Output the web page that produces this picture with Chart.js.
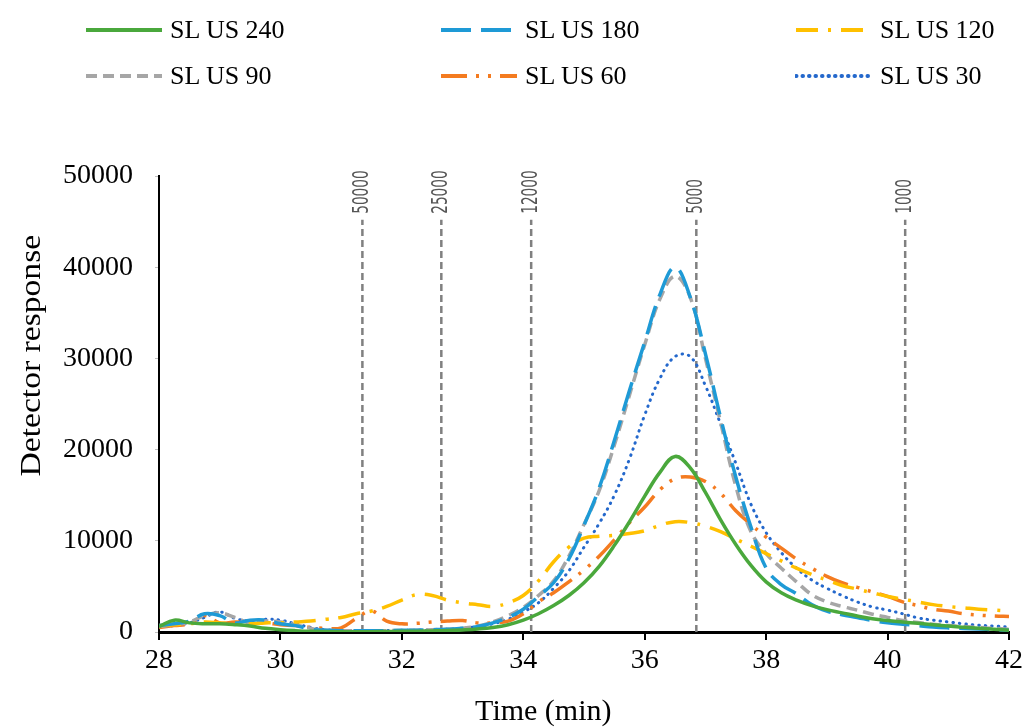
<!DOCTYPE html>
<html>
<head>
<meta charset="utf-8">
<title>Detector response</title>
<script src="https://cdn.jsdelivr.net/npm/chart.js@4.4.0/dist/chart.umd.min.js"></script>
<style>
  html, body { margin: 0; padding: 0; background: #fff; }
  #wrap { position: relative; width: 1027px; height: 728px; }
  #legend { position: absolute; left: 0; top: 0; width: 1027px; height: 100px;
            font-family: 'Liberation Serif', serif; font-size: 26px; color: #000; }
  .item { position: absolute; display: flex; align-items: center; height: 30px; white-space: nowrap; }
  .item svg { margin-right: 7px; }
</style>
</head>
<body>
<div id="wrap">
  <canvas id="chart" width="1027" height="728"></canvas>
  <div id="legend"></div>
</div>
<script>
// retention time (min)
const times = [28, 28.25, 28.5, 28.75, 29, 29.25, 29.5, 29.75, 30, 30.25, 30.5, 30.75,
  31, 31.25, 31.5, 31.75, 32, 32.25, 32.5, 32.75, 33, 33.25, 33.5, 33.75,
  34, 34.25, 34.5, 34.75, 35, 35.25, 35.5, 35.75, 36, 36.25, 36.5, 36.75,
  37, 37.25, 37.5, 37.75, 38, 38.25, 38.5, 38.75, 39, 39.25, 39.5, 39.75,
  40, 40.25, 40.5, 40.75, 41, 41.25, 41.5, 41.75, 42];

const sl240 = [600, 1300, 1000, 900, 900, 800, 650, 400, 250, 150, 80, 50,
  30, 30, 40, 50, 70, 90, 120, 160, 230, 330, 500, 800,
  1300, 2000, 2900, 4000, 5400, 7200, 9500, 12100, 14900, 17500, 19250, 18000,
  15300, 12300, 9600, 7300, 5500, 4300, 3500, 2900, 2450, 2100, 1750, 1450,
  1250, 1100, 950, 800, 650, 530, 420, 300, 200];

const sl180 = [700, 900, 1200, 2000, 1800, 1000, 1300, 1300, 900, 700, 300, 200,
  150, 150, 150, 150, 180, 200, 250, 300, 400, 600, 1000, 1600,
  2500, 3900, 5400, 8000, 11700, 15800, 21000, 26500, 31800, 37000, 40000, 36700,
  30500, 23500, 17000, 11500, 7000, 5200, 4200, 3000, 2300, 1900, 1600, 1250,
  1000, 850, 700, 550, 450, 380, 320, 260, 200];

const sl120 = [700, 800, 900, 1100, 1000, 900, 900, 1000, 1000, 1100, 1200, 1400,
  1600, 2000, 2300, 2800, 3500, 4100, 4000, 3500, 3200, 3000, 2800, 3200,
  4000, 5600, 7700, 9300, 10300, 10500, 10600, 10800, 11100, 11700, 12100, 12000,
  11600, 11000, 10200, 9400, 8600, 7800, 7000, 6300, 5700, 5100, 4700, 4300,
  3900, 3600, 3300, 3000, 2800, 2650, 2500, 2400, 2300];

const sl90 = [600, 800, 1100, 1800, 2100, 1600, 1000, 1200, 1100, 800, 400, 200,
  150, 150, 150, 150, 170, 200, 250, 300, 420, 650, 1100, 1800,
  2700, 4000, 5600, 8300, 11800, 15500, 20500, 26000, 31500, 36500, 39000, 36700,
  30000, 23000, 16000, 11000, 8600, 7000, 5500, 4100, 3300, 2800, 2400, 1950,
  1600, 1250, 1050, 850, 700, 600, 500, 400, 300];

const sl60 = [500, 700, 900, 1800, 1000, 1100, 1050, 1000, 800, 700, 500, 400,
  450, 1500, 2300, 1200, 900, 950, 1100, 1200, 1250, 1000, 1000, 1200,
  2000, 3300, 4300, 5500, 6800, 8300, 10100, 12000, 13700, 15600, 16800, 17000,
  16500, 15200, 13300, 11800, 10400, 9200, 8000, 7000, 6100, 5400, 4900, 4400,
  3900, 3300, 2900, 2500, 2300, 2000, 1850, 1750, 1700];

const sl30 = [600, 700, 1000, 1600, 2200, 1500, 1200, 1400, 1300, 900, 500, 250,
  150, 150, 150, 150, 180, 200, 250, 300, 400, 600, 900, 1400,
  2200, 3200, 4800, 6700, 9300, 11900, 15000, 19000, 23800, 27800, 30200, 30200,
  27000, 22800, 18500, 14000, 10900, 8700, 7000, 5700, 4800, 4000, 3300, 2750,
  2400, 2000, 1550, 1300, 1100, 900, 750, 650, 550];

// molecular weight markers (Da) and their elution times
const markerLabels = ['50000', '25000', '12000', '5000', '1000'];
const markerTimes = [31.35, 32.65, 34.13, 36.85, 40.29];
const markerTop = 45200;

const seriesNames = ['SL US 240', 'SL US 180', 'SL US 120', 'SL US 90', 'SL US 60', 'SL US 30'];
const seriesValues = [sl240, sl180, sl120, sl90, sl60, sl30];
const seriesStyle = [
  { color: '#4aa83c', dash: [], width: 3.5, cap: 'butt' },
  { color: '#1e9ad6', dash: [30, 10], width: 3.5, cap: 'butt' },
  { color: '#ffc000', dash: [22, 10, 3, 10], width: 3.5, cap: 'butt' },
  { color: '#a6a6a6', dash: [11, 6], width: 3.5, cap: 'butt' },
  { color: '#f47b20', dash: [26, 9, 3, 9, 3, 9], width: 3.5, cap: 'butt' },
  { color: '#2468cc', dash: [0.5, 6], width: 3, cap: 'round' }
];

const serif = "'Liberation Serif', 'Times New Roman', serif";

const datasets = seriesNames.map((name, i) => ({
  label: name,
  data: times.map((t, j) => ({ x: t, y: seriesValues[i][j] })),
  borderColor: seriesStyle[i].color,
  borderDash: seriesStyle[i].dash,
  borderWidth: seriesStyle[i].width,
  borderCapStyle: seriesStyle[i].cap,
  fill: false,
  pointRadius: 0,
  tension: 0.4
}));

markerTimes.forEach((t, i) => {
  datasets.push({
    label: markerLabels[i],
    marker: true,
    data: [{ x: t, y: 0 }, { x: t, y: markerTop }],
    borderColor: '#808080',
    borderDash: [7, 4],
    borderWidth: 2.5,
    pointRadius: 0,
    tension: 0
  });
});

// marker labels above the dashed lines, axis titles
const extras = {
  id: 'extras',
  afterDatasetsDraw(chart) {
    const { ctx, scales: { x, y } } = chart;
    ctx.save();
    ctx.fillStyle = '#555';
    ctx.font = "22px 'DejaVu Sans', sans-serif";
    ctx.textAlign = 'left';
    ctx.textBaseline = 'middle';
    markerTimes.forEach((t, i) => {
      ctx.save();
      ctx.translate(x.getPixelForValue(t), y.getPixelForValue(markerTop) - 6);
      ctx.rotate(-Math.PI / 2);
      ctx.scale(0.62, 1);
      ctx.fillText(markerLabels[i], 0, 0);
      ctx.restore();
    });

    ctx.fillStyle = '#000';
    ctx.font = '30px ' + serif;
    ctx.textAlign = 'center';
    ctx.textBaseline = 'middle';
    ctx.fillText('Time (min)', x.getPixelForValue(34.33), 712);

    ctx.translate(32, y.getPixelForValue(30300));
    ctx.rotate(-Math.PI / 2);
    ctx.scale(1.12, 1);
    ctx.fillText('Detector response', 0, 0);
    ctx.restore();
  }
};

const chart = new Chart(document.getElementById('chart'), {
  type: 'line',
  data: { datasets },
  plugins: [extras],
  options: {
    responsive: false,
    animation: false,
    layout: { padding: { top: 176, right: 18, left: 0, bottom: 0 } },
    plugins: { legend: { display: false }, tooltip: { enabled: false } },
    scales: {
      x: {
        type: 'linear', min: 28, max: 42,
        ticks: { stepSize: 2, color: '#000', font: { family: serif, size: 28 }, padding: 4, maxRotation: 0 },
        grid: { drawOnChartArea: false, drawTicks: true, tickLength: 8, color: '#000', lineWidth: 2 },
        border: { color: '#000', width: 3 },
        afterFit: s => { s.height = 96; }
      },
      y: {
        min: 0, max: 50000,
        ticks: { stepSize: 10000, color: '#000', font: { family: serif, size: 28 }, padding: 22,
                 callback: v => String(v) },
        grid: { drawOnChartArea: false, drawTicks: true, tickLength: 4, color: '#c0c0c0', lineWidth: 1 },
        border: { color: '#000', width: 2 },
        afterFit: s => { s.width = 159; }
      }
    }
  }
});

// html legend in a 3 x 2 grid
const legendBox = document.getElementById('legend');
const colX = [85, 440, 795];
const rowY = [15, 61];
chart.data.datasets.filter(d => !d.marker).forEach((d, i) => {
  const item = document.createElement('div');
  item.className = 'item';
  item.style.left = colX[i % 3] + 'px';
  item.style.top = rowY[Math.floor(i / 3)] + 'px';
  const cap = d.borderCapStyle === 'round' ? 'round' : 'butt';
  item.innerHTML =
    '<svg width="78" height="10"><line x1="1" y1="5" x2="77" y2="5" stroke="' + d.borderColor +
    '" stroke-width="4" stroke-linecap="' + cap + '" stroke-dasharray="' + (d.borderDash.length ? d.borderDash.join(',') : 'none') +
    '"/></svg><span>' + d.label + '</span>';
  legendBox.appendChild(item);
});
</script>
</body>
</html>
